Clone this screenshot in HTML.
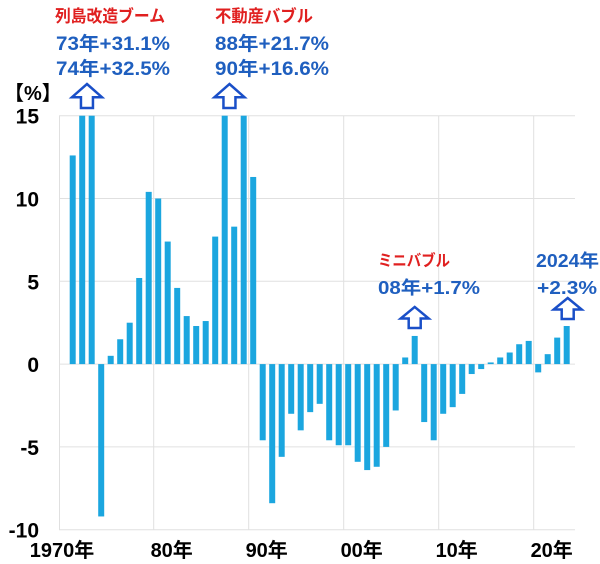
<!DOCTYPE html>
<html><head><meta charset="utf-8"><style>
body{margin:0;background:#fff}
svg text{font-family:"Liberation Sans","Noto Sans CJK JP",sans-serif;font-weight:bold}
</style></head><body>
<svg id="chart" width="600" height="559" xmlns="http://www.w3.org/2000/svg">
<g id="grid"></g><g id="bars"></g><g id="axes"></g>
<g id="ann">
<text x="55" y="22" font-size="17" fill="#e02020" textLength="110" lengthAdjust="spacingAndGlyphs">列島改造ブーム</text>
<text x="56" y="50" font-size="19" fill="#1f5fbf" textLength="114" lengthAdjust="spacingAndGlyphs">73年+31.1%</text>
<text x="56" y="75" font-size="19" fill="#1f5fbf" textLength="114" lengthAdjust="spacingAndGlyphs">74年+32.5%</text>
<text x="215" y="22" font-size="17" fill="#e02020" textLength="98" lengthAdjust="spacingAndGlyphs">不動産バブル</text>
<text x="215" y="50" font-size="19" fill="#1f5fbf" textLength="114" lengthAdjust="spacingAndGlyphs">88年+21.7%</text>
<text x="215" y="75" font-size="19" fill="#1f5fbf" textLength="114" lengthAdjust="spacingAndGlyphs">90年+16.6%</text>
<text x="378" y="266" font-size="16" fill="#e02020" textLength="72" lengthAdjust="spacingAndGlyphs">ミニバブル</text>
<text x="378" y="294" font-size="18" fill="#1f5fbf" textLength="102" lengthAdjust="spacingAndGlyphs">08年+1.7%</text>
<text x="536" y="267" font-size="18" fill="#1f5fbf" textLength="63" lengthAdjust="spacingAndGlyphs">2024年</text>
<text x="537" y="294" font-size="18" fill="#1f5fbf" textLength="60" lengthAdjust="spacingAndGlyphs">+2.3%</text>
<text x="4" y="100" font-size="20" fill="#000">【%】</text>
</g>
</svg>
<script>
const years=[];for(let y=1970;y<=2024;y++)years.push(y);
const values=[null,null,12.6,31.1,32.5,-9.2,0.5,1.5,2.5,5.2,10.4,10.0,7.4,4.6,2.9,2.3,2.6,7.7,21.7,8.3,16.6,11.3,-4.6,-8.4,-5.6,-3.0,-4.0,-2.9,-2.4,-4.6,-4.9,-4.9,-5.9,-6.4,-6.2,-5.0,-2.8,0.4,1.7,-3.5,-4.6,-3.0,-2.6,-1.8,-0.6,-0.3,0.1,0.4,0.7,1.2,1.4,-0.5,0.6,1.6,2.3];
const yTicks=[15,10,5,0,-5,-10];
const xTickYears=[1970,1980,1990,2000,2010,2020];
const xTickLabels=["1970年","80年","90年","00年","10年","20年"];
const arrowYears=[1973.5,1988.5,2008,2024];
const NS="http://www.w3.org/2000/svg";
const yMin=-10,yMax=15,plotTop=115.7,plotBot=529.7;
function Y(v){return plotTop+(yMax-v)/(yMax-yMin)*(plotBot-plotTop);}
function X(yr){return 53.7+(yr-1970)*9.5;}
function mk(t,a,p){const e=document.createElementNS(NS,t);for(const k in a)e.setAttribute(k,a[k]);p.appendChild(e);return e;}
const gridG=document.getElementById('grid'),barsG=document.getElementById('bars'),axesG=document.getElementById('axes'),annG=document.getElementById('ann');
yTicks.forEach(t=>{
 const l=mk('line',{x1:59,x2:575,y1:Y(t),y2:Y(t),stroke:'#e0e0e0','stroke-width':1},gridG);
 
 
 const tx=mk('text',{x:39,y:Y(t)+8,'font-size':21,'text-anchor':'end',fill:'#000'},axesG);
 tx.textContent=t;
 
 
});
xTickYears.forEach((yr,i)=>{
 const gx=i===0?59.5:X(yr)+5;
 const l=mk('line',{x1:gx,x2:gx,y1:plotTop,y2:plotBot,stroke:'#e0e0e0','stroke-width':1},gridG);
 
 
 const cx=i===0?62:X(yr)+23;
 const tx=mk('text',{x:cx,y:557,'font-size':20,'text-anchor':'middle',fill:'#000'},axesG);
 tx.textContent=xTickLabels[i];
 
 
});
years.forEach((yr,i)=>{
 const v=values[i];if(v===null)return;
 const vc=Math.max(yMin,Math.min(yMax,v));
 const y0=Y(0),y1=Y(vc);
 const r=mk('rect',{x:X(yr)-3,y:Math.min(y0,y1),width:6,height:Math.max(0.8,Math.abs(y1-y0)),fill:'#1ba6df'},barsG);
 
 
});
arrowYears.forEach((yr,i)=>{
 const cx=X(yr)+(i==3?1:0),by=i<2?108:(i==2?Y(values[38])-8:Y(values[54])-7),h=i<2?24:21,w=i<2?15:14;
 const p=`M${cx},${by-h} L${cx+w},${by-h*0.45} L${cx+6},${by-h*0.45} L${cx+6},${by} L${cx-6},${by} L${cx-6},${by-h*0.45} L${cx-w},${by-h*0.45} Z`;
 const a=mk('path',{d:p,fill:'#fff',stroke:'#1a4fc8','stroke-width':2.5,'stroke-linejoin':'miter'},annG);
 
 
});
</script>
</body></html>
